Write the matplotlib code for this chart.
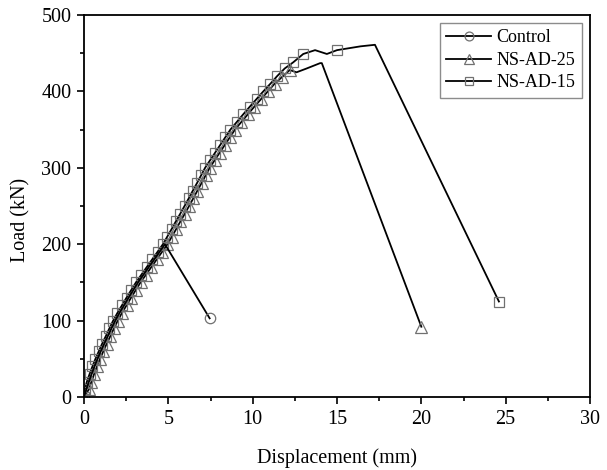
import matplotlib
matplotlib.use("Agg")
import matplotlib.pyplot as plt
from matplotlib.ticker import MultipleLocator

plt.rcParams['font.family'] = ['Liberation Serif', 'DejaVu Serif']

# ---------------- data ----------------
ctrl_x = [0, 0.14, 0.29, 0.45, 0.62, 0.8, 1.0, 1.2, 1.42, 1.63, 1.85, 2.1,
          2.37, 2.64, 2.92, 3.2, 3.52, 3.84, 4.16, 4.48, 4.8, 7.45]
ctrl_y = [0, 10, 20, 30, 40, 50, 60, 70, 80, 90, 100, 110,
          120, 130, 140, 150, 160, 170, 180, 190, 200, 103]

ns25_x = [0, 0.29, 0.44, 0.6, 0.77, 0.95, 1.15, 1.35, 1.57, 1.78,
          2.0, 2.25, 2.52, 2.79, 3.07, 3.35, 3.67, 3.99, 4.31, 4.63,
          4.95, 5.21, 5.47, 5.72, 5.98, 6.23, 6.48, 6.72, 6.97, 7.21,
          7.45, 7.75, 8.05, 8.35, 8.65, 8.95, 9.33, 9.71, 10.1, 10.5,
          10.9, 11.3, 11.75, 12.2, 12.6, 13.2, 14.0, 14.1, 20.0]
ns25_y = [0, 10, 20, 30, 40, 50, 60, 70, 80, 90,
          100, 110, 120, 130, 140, 150, 160, 170, 180, 190,
          200, 210, 220, 230, 240, 250, 260, 270, 280, 290,
          300, 310, 320, 330, 340, 350, 360, 370, 380, 390,
          400, 410, 419, 428, 425, 430, 437, 437, 92]

ns15_x = [0, 0.04, 0.17, 0.33, 0.5, 0.68, 0.88, 1.08, 1.3, 1.51,
          1.73, 1.98, 2.25, 2.52, 2.8, 3.08, 3.4, 3.72, 4.04, 4.36,
          4.68, 4.94, 5.2, 5.45, 5.71, 5.96, 6.21, 6.45, 6.7, 6.94,
          7.18, 7.48, 7.78, 8.08, 8.38, 8.68, 9.06, 9.44, 9.83, 10.23,
          10.63, 11.05, 11.45, 11.9, 12.4, 13.0, 13.7, 14.4, 15.0, 16.4,
          17.25, 24.6]
ns15_y = [0, 10, 20, 30, 40, 50, 60, 70, 80, 90,
          100, 110, 120, 130, 140, 150, 160, 170, 180, 190,
          200, 210, 220, 230, 240, 250, 260, 270, 280, 290,
          300, 310, 320, 330, 340, 350, 360, 370, 380, 390,
          400, 410, 420, 430, 438, 449, 454, 449, 454, 459,
          461, 125]

# plateau points drawn without a symbol
ns25_nomark = [12.6, 13.2, 14.0, 14.1]
ns15_nomark = [13.7, 14.4, 16.4, 17.25]

labels = ['Control', 'NS-AD-25', 'NS-AD-15']
xticks = [0, 5, 10, 15, 20, 25, 30]
yticks = [0, 100, 200, 300, 400, 500]

# ---------------- figure ----------------
fig = plt.figure(figsize=(6.07, 4.70), dpi=100)
ax = fig.add_axes([84/607, 1 - 397/470, (590-84)/607, (397-15)/470])

mcol = '#707070'
lw = 1.3
mew = 0.9

ax.plot(ctrl_x, ctrl_y, color='black', lw=lw, marker='o', ms=7.5,
        mfc='none', mec=mcol, mew=mew, markevery=[len(ctrl_x) - 1],
        label=labels[0], zorder=3)
m25 = [i for i, v in enumerate(ns25_x) if v not in ns25_nomark]
ax.plot(ns25_x, ns25_y, color='black', lw=lw, marker='^', ms=8.5,
        mfc='none', mec=mcol, mew=mew, markevery=m25,
        label=labels[1], zorder=2)
m15 = [i for i, v in enumerate(ns15_x) if v not in ns15_nomark]
ax.plot(ns15_x, ns15_y, color='black', lw=lw, marker='s', ms=7,
        mfc='none', mec=mcol, mew=mew, markevery=m15,
        label=labels[2], zorder=2)

ax.set_xlim(0, 30)
ax.set_ylim(0, 500)
ax.set_xticks(xticks)
ax.set_yticks(yticks)
ax.xaxis.set_minor_locator(MultipleLocator(2.5))
ax.yaxis.set_minor_locator(MultipleLocator(50))
ax.tick_params(which='both', direction='out', top=False, right=False,
               labelsize=14.5, width=1.2, pad=4)
ax.tick_params(which='major', length=5)
ax.tick_params(which='minor', length=3)
for s in ax.spines.values():
    s.set_linewidth(1.3)

ax.set_xlabel('Displacement (mm)', fontsize=14.5, labelpad=14)
ax.set_ylabel('Load (kN)', fontsize=14.5)
ax.yaxis.set_label_coords(-0.106, 0.463)

leg = ax.legend(loc='upper right', fontsize=13, frameon=True, fancybox=False,
                edgecolor='#707070', handlelength=2.5, handletextpad=0.3,
                borderpad=0.35, labelspacing=0.3, borderaxespad=0.45,
                markerscale=0.85)
leg.get_frame().set_linewidth(1.0)

fig.savefig('out.png', dpi=100)
